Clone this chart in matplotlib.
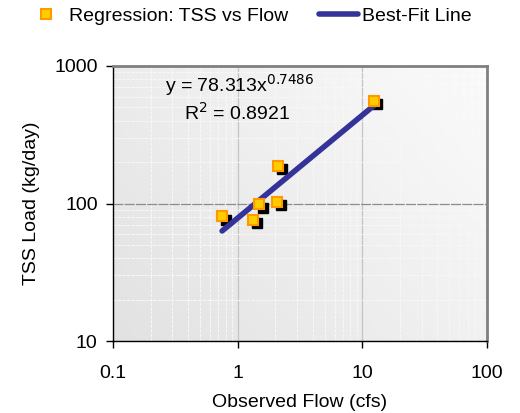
import numpy as np
import matplotlib
matplotlib.use("Agg")
import matplotlib.pyplot as plt
from matplotlib.colors import LinearSegmentedColormap
from matplotlib.lines import Line2D
from matplotlib.transforms import ScaledTranslation

plt.rcParams['font.family'] = ['Liberation Sans', 'DejaVu Sans']

flow_cfs = [0.75, 1.33, 1.49, 2.08, 2.12, 12.4]
tss_load = [81, 76, 99, 103, 188, 560]

# power-law fit shown on chart
fit_a = 78.313
fit_b = 0.7486

FS = 14

fig = plt.figure(figsize=(5.2, 4.13), dpi=100)
ax = fig.add_axes([113 / 520, 1 - 341 / 413, 374 / 520, 275 / 413])

ax.set_xscale('log')
ax.set_yscale('log')
ax.set_xlim(0.1, 100)
ax.set_ylim(10, 1000)

# gradient background
grad_cmap = LinearSegmentedColormap.from_list('bg', ['#e2e2e2', '#fbfbfb'])
gx, gy = np.meshgrid(np.linspace(0, 1, 200), np.linspace(0, 1, 200))
ax.imshow(gx * 0.6 + (1 - gy) * 0.4, cmap=grad_cmap, extent=[0, 1, 0, 1],
          transform=ax.transAxes, aspect='auto', zorder=0)

# grid
ax.grid(which='minor', color='#f7f7f7', linestyle=(0, (3, 1)), linewidth=0.8, zorder=1)
ax.grid(which='major', axis='x', color='#c4c4c4', linestyle='-', linewidth=0.9, zorder=1)
ax.grid(which='major', axis='y', color='#8c8c8c', linestyle=(0, (8, 1)), linewidth=0.9, zorder=1)
ax.set_axisbelow(True)

# fit line
xfit = np.array([min(flow_cfs), max(flow_cfs)])
yfit = fit_a * xfit ** fit_b
ax.plot(xfit, yfit, color='#333399', linewidth=4, solid_capstyle='round', zorder=4)

# shadow + markers
shadow = ax.transData + ScaledTranslation(3.5 / 100, -3.5 / 100, fig.dpi_scale_trans)
ax.plot(flow_cfs, tss_load, linestyle='none', marker='s', markersize=7.5,
        color='black', zorder=3, transform=shadow)
ax.plot(flow_cfs, tss_load, linestyle='none', marker='s', markersize=7.5,
        markerfacecolor='#ffcc00', markeredgecolor='#ff9900', markeredgewidth=1.5, zorder=5)

ax.text(0.139, 0.93, 'y = 78.313x$^{0.7486}$', transform=ax.transAxes, fontsize=FS,
        ha='left', va='center', zorder=6)
ax.text(0.19, 0.83, 'R$^{2}$ = 0.8921', transform=ax.transAxes, fontsize=FS,
        ha='left', va='center', zorder=6)

# spines
for s in ['left', 'bottom']:
    ax.spines[s].set_color('black')
    ax.spines[s].set_linewidth(1.0)
for s in ['top', 'right']:
    ax.spines[s].set_color('#808080')
    ax.spines[s].set_linewidth(2.0)

ax.set_xticks([0.1, 1, 10, 100])
ax.set_xticklabels(['0.1', '1', '10', '100'])
ax.set_yticks([10, 100, 1000])
ax.set_yticklabels(['10', '100', '1000'])
ax.tick_params(which='major', direction='out', length=5, width=1, labelsize=FS, pad=6)
ax.tick_params(axis='x', which='major', pad=12)
ax.tick_params(which='minor', length=0)

ax.set_xlabel('Observed Flow (cfs)', fontsize=FS, labelpad=9)
ax.set_ylabel('TSS Load (kg/day)', fontsize=FS, labelpad=10)

handles = [
    Line2D([], [], linestyle='none', marker='s', markersize=7.5,
           markerfacecolor='#ffcc00', markeredgecolor='#ff9900', markeredgewidth=1.5),
    Line2D([], [], color='#333399', linewidth=4, solid_capstyle='round'),
]
fig.legend(handles, ['Regression: TSS vs Flow', 'Best-Fit Line'], loc='center',
           bbox_to_anchor=(249 / 520, 1 - 16 / 413), ncol=2, frameon=False, fontsize=FS,
           handlelength=2.0, handletextpad=0.2, columnspacing=1.55,
           borderpad=0, borderaxespad=0)

fig.savefig('out.png', dpi=100)
